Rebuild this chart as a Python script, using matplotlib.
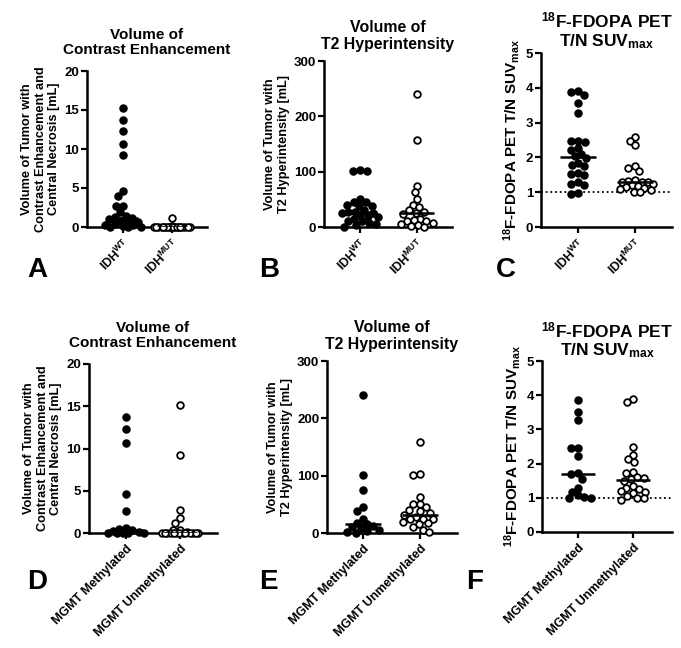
import numpy as np
import matplotlib
matplotlib.use("Agg")
import matplotlib.pyplot as plt

plt.rcParams['font.family'] = ['Liberation Sans', 'DejaVu Sans']
plt.rcParams['font.weight'] = 'bold'
plt.rcParams['mathtext.fontset'] = 'custom'
plt.rcParams['mathtext.rm'] = 'Liberation Sans:bold'
plt.rcParams['mathtext.it'] = 'Liberation Sans:bold'
plt.rcParams['mathtext.bf'] = 'Liberation Sans:bold'
plt.rcParams['mathtext.sf'] = 'Liberation Sans:bold'
plt.rcParams['mathtext.default'] = 'bf'

# ---------------- data ----------------
idh_labels = ["IDH$^{WT}$", "IDH$^{MUT}$"]
mgmt_labels = ["MGMT Methylated", "MGMT Unmethylated"]

# Panel A: contrast enhancement volume [mL] by IDH
ce_idh_wt = [15.2, 13.7, 12.3, 10.6, 9.2, 4.6, 4.0, 2.7, 2.7, 1.9, 1.4, 1.3,
             1.1, 1.0, 0.8, 0.7, 0.6, 0.4, 0.3, 0.2, 0.1, 0.05, 0.0, 0.0]
ce_idh_mut = [1.2, 0.1, 0.05, 0.0, 0.0, 0.0, 0.0, 0.0, 0.0, 0.0,
              0.0, 0.0, 0.0, 0.0, 0.0, 0.0, 0.0, 0.0, 0.0, 0.0]

# Panel B: T2 hyperintensity volume [mL] by IDH
t2_idh_wt = [103, 102, 101, 50, 45, 45, 40, 38, 38, 30, 28, 27,
             26, 25, 22, 20, 18, 15, 10, 10, 8, 5, 3, 0]
t2_idh_mut = [240, 158, 75, 63, 50, 40, 36, 30, 28, 25, 24, 15,
              12, 10, 10, 8, 5, 3, 2, 0]

# Panel C: 18F-FDOPA PET T/N SUVmax by IDH
suv_idh_wt = [3.90, 3.87, 3.80, 3.55, 3.28, 2.47, 2.47, 2.45, 2.27, 2.22, 2.10, 2.05,
              1.97, 1.85, 1.77, 1.75, 1.55, 1.52, 1.48, 1.28, 1.25, 1.22, 0.98, 0.95]
suv_idh_mut = [2.60, 2.48, 2.35, 1.75, 1.70, 1.60, 1.35, 1.32, 1.30, 1.30,
               1.28, 1.25, 1.22, 1.18, 1.15, 1.12, 1.08, 1.05, 1.02, 1.00]

# Panel D: contrast enhancement volume [mL] by MGMT
ce_mgmt_m = [13.7, 12.3, 10.6, 4.6, 2.6, 0.6, 0.5, 0.3, 0.2, 0.1, 0.05, 0.0, 0.0, 0.0, 0.0]
ce_mgmt_u = [15.2, 9.2, 2.7, 1.8, 1.2, 0.3, 0.3, 0.1, 0.05, 0.0, 0.0,
             0.0, 0.0, 0.0, 0.0, 0.0, 0.0, 0.0, 0.0, 0.0, 0.0]

# Panel E: T2 hyperintensity volume [mL] by MGMT
t2_mgmt_m = [240, 101, 75, 45, 38, 25, 18, 15, 12, 10, 8, 5, 3, 2, 0]
t2_mgmt_u = [158, 103, 101, 63, 50, 50, 45, 40, 38, 35, 32, 28, 25, 25,
             24, 20, 18, 15, 10, 5, 2]

# Panel F: 18F-FDOPA PET T/N SUVmax by MGMT
suv_mgmt_m = [3.87, 3.52, 3.28, 2.47, 2.47, 2.22, 1.72, 1.70, 1.55, 1.28,
              1.18, 1.08, 1.02, 1.00, 1.00]
suv_mgmt_u = [3.90, 3.80, 2.48, 2.25, 2.12, 2.05, 1.75, 1.72, 1.60, 1.58, 1.55,
              1.50, 1.35, 1.30, 1.25, 1.20, 1.18, 1.15, 1.05, 1.00, 0.98, 0.95]

# ---------------- layout ----------------
W, H = 681, 648
fig = plt.figure(figsize=(W / 100, H / 100), dpi=100)


def add_axes_px(l, b, r, t):
    return fig.add_axes([l / W, 1 - b / H, (r - l) / W, (b - t) / H])


def swarm(ax, y, diam=6.8, maxhalf=18.0):
    """Beeswarm offsets computed in display pixels, returned in data-x units."""
    y = np.asarray(y, float)
    pix = ax.transData.transform(np.column_stack([np.zeros_like(y), y]))[:, 1]
    xs = ax.transData.transform([[0, 0], [1, 0]])[:, 0]
    pxu = xs[1] - xs[0]
    order = np.argsort(-pix, kind='stable')
    placed_x, placed_y = [], []
    off = np.zeros_like(y)
    grid = np.linspace(-maxhalf, maxhalf, 145)
    for i in order:
        py = pix[i]
        cands = [0.0]
        for qx, qy in zip(placed_x, placed_y):
            dy = py - qy
            if abs(dy) < diam:
                dx = np.sqrt(diam ** 2 - dy ** 2) + 1e-3
                cands += [qx - dx, qx + dx]
        cands = np.array(cands + list(grid))
        cands = cands[np.abs(cands) <= maxhalf + 1e-6]
        if placed_x:
            px_ = np.array(placed_x)
            py_ = np.array(placed_y)
            md = np.min(np.hypot(cands[:, None] - px_[None, :], py - py_[None, :]), axis=1)
        else:
            md = np.full(len(cands), np.inf)
        ok = md >= diam - 1e-6
        if ok.any():
            c = cands[ok]
            best = c[np.argmin(np.abs(c))]
        else:
            score = md - 0.02 * np.abs(cands)
            best = cands[np.argmax(score)]
        off[i] = best
        placed_x.append(best)
        placed_y.append(py)
    return off / pxu


def panel(rect, xlim, ylim, yticks, d0, d1, labels, title, ylabel, title_pad,
          title_size=11, ylabel_size=9.2, dotted=False):
    ax = add_axes_px(*rect)
    ax.set_xlim(*xlim)
    ax.set_ylim(*ylim)
    for s in ['top', 'right']:
        ax.spines[s].set_visible(False)
    for s in ['left', 'bottom']:
        ax.spines[s].set_linewidth(1.8)
    ax.set_yticks(yticks)
    ax.set_xticks([0, 1])
    ax.set_xticklabels(labels, rotation=45, ha='right', rotation_mode='anchor',
                       fontsize=9, fontweight='bold')
    ax.tick_params(axis='both', direction='out', length=4, width=1.6, labelsize=9.5)
    ax.tick_params(axis='x', pad=3, labelsize=9)
    ax.tick_params(axis='y', pad=1.5)
    for lab in ax.get_yticklabels():
        lab.set_fontweight('bold')
    if dotted:
        ax.axhline(1, color='black', ls=(0, (1, 1.6)), lw=1.3, zorder=1)
    for xi, d, filled in [(0, d0, True), (1, d1, False)]:
        off = swarm(ax, d)
        ax.scatter(xi + off, d, s=23, marker='o',
                   facecolors='black' if filled else 'white',
                   edgecolors='black', linewidths=1.3, zorder=3, clip_on=False)
        med = np.median(d)
        ax.plot([xi - 0.31, xi + 0.31], [med, med], color='black', lw=1.8,
                zorder=4, solid_capstyle='butt')
    ax.set_title(title, fontsize=title_size, fontweight='bold', pad=title_pad,
                 linespacing=1.1)
    ax.set_ylabel(ylabel, fontsize=ylabel_size, fontweight='bold', linespacing=1.2,
                  labelpad=3)
    return ax


ce_title = "Volume of\nContrast Enhancement"
t2_title = "Volume of\nT2 Hyperintensity"
suv_title = "$^{18}$F-FDOPA PET\nT/N SUV$_{max}$"
ce_ylab = "Volume of Tumor with\nContrast Enhancement and\nCentral Necrosis [mL]"
t2_ylab = "Volume of Tumor with\nT2 Hyperintensity [mL]"
suv_ylab = "$^{18}$F-FDOPA PET T/N SUV$_{max}$"

panel((87, 227, 207, 71), (-0.735, 1.72), (0, 20), [0, 5, 10, 15, 20],
      ce_idh_wt, ce_idh_mut, idh_labels, ce_title, ce_ylab, 12)
panel((324, 227, 452, 61), (-0.63, 1.62), (0, 300), [0, 100, 200, 300],
      t2_idh_wt, t2_idh_mut, idh_labels, t2_title, t2_ylab, 9, title_size=11.4)
panel((541, 227, 672, 53), (-0.65, 1.65), (0, 5), [0, 1, 2, 3, 4, 5],
      suv_idh_wt, suv_idh_mut, idh_labels, suv_title, suv_ylab, 5,
      title_size=12.5, ylabel_size=11, dotted=True)
panel((89, 533, 217, 364), (-0.685, 1.685), (0, 20), [0, 5, 10, 15, 20],
      ce_mgmt_m, ce_mgmt_u, mgmt_labels, ce_title, ce_ylab, 12)
panel((327, 533, 457, 361), (-0.63, 1.65), (0, 300), [0, 100, 200, 300],
      t2_mgmt_m, t2_mgmt_u, mgmt_labels, t2_title, t2_ylab, 9, title_size=11.4)
panel((542, 532, 672, 361), (-0.655, 1.71), (0, 5), [0, 1, 2, 3, 4, 5],
      suv_mgmt_m, suv_mgmt_u, mgmt_labels, suv_title, suv_ylab, 4,
      title_size=12.5, ylabel_size=11, dotted=True)

for letter, x, y in [('A', 27, 277), ('B', 259, 277), ('C', 496, 277),
                     ('D', 27, 589), ('E', 259, 589), ('F', 466, 589)]:
    fig.text(x / W, 1 - y / H, letter, fontsize=20, fontweight='bold',
             va='baseline', ha='left')

fig.savefig('out.png', dpi=100, facecolor='white')
